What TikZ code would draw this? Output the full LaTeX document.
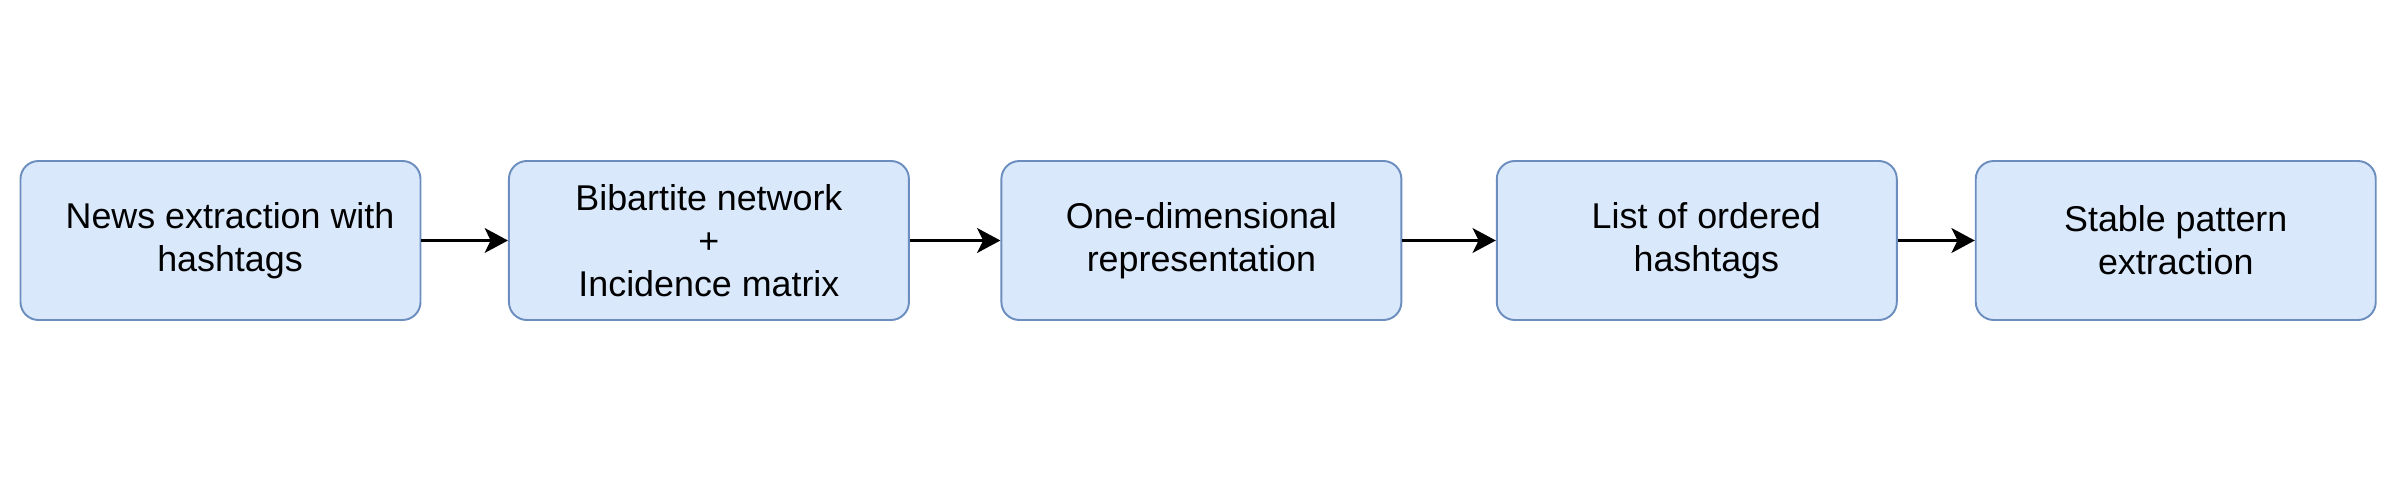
\documentclass[tikz,border=0pt]{standalone}
\usepackage{fontspec}
\setmainfont{Liberation Sans}
\usepackage{tikz}
\usetikzlibrary{
    arrows.meta,
    positioning
}
\definecolor{blockFill}{RGB}{218,232,252}
\definecolor{blockLine}{RGB}{108,142,191}
\newcommand{\tshift}{\hspace*{0.19cm}}
\tikzset{
  block/.style = {draw=blockLine, fill=blockFill, line width=0.55pt,
                  rounded corners=0.18cm, minimum width=4.0cm,
                  minimum height=1.59cm, align=center,
                  font=\fontsize{10.2}{12.3}\selectfont},
  arr/.style   = {-{Stealth[length=6.6pt, width=7pt, inset=1.7pt]},
                  line width=1.1pt, black}
}

\begin{document}
\begin{tikzpicture}
  \useasboundingbox (0,0) rectangle (24.02,4.82);

  %% -- Blocks --------------------------------------------------
  \node[block] (news)   at (2.205, 2.415) {\tshift News extraction with\\\tshift hashtags};
  \node[block, right=0.865cm of news]   (bipart) {Bibartite network\\+\\Incidence matrix};
  \node[block, right=0.905cm of bipart] (onedim) {One-dimensional\\representation};
  \node[block, right=0.935cm of onedim] (hlist)  {\tshift List of ordered\\\tshift hashtags};
  \node[block, right=0.77cm of hlist]   (stable) {Stable pattern\\extraction};

  %% -- Arrows --------------------------------------------------
  \draw[arr] (news)   -- (bipart);
  \draw[arr] (bipart) -- (onedim);
  \draw[arr] (onedim) -- (hlist);
  \draw[arr] (hlist)  -- (stable);

\end{tikzpicture}
\end{document}
